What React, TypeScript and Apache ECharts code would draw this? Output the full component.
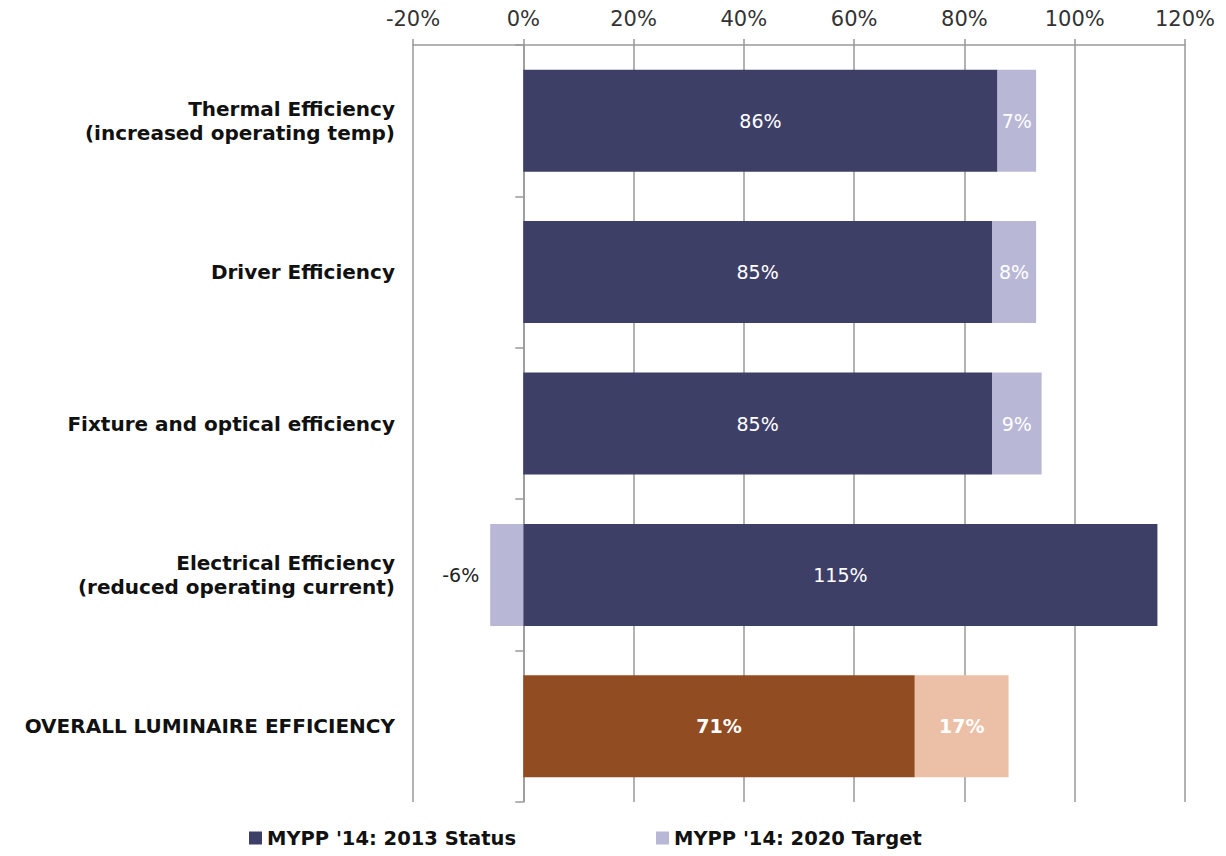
import React, { useEffect, useRef } from "react";
import * as echarts from "echarts";

const categories = [
  "Thermal Efficiency\n(increased operating temp)",
  "Driver Efficiency",
  "Fixture and optical efficiency",
  "Electrical Efficiency\n(reduced operating current)",
  "OVERALL LUMINAIRE EFFICIENCY",
];
const status2013 = [86, 85, 85, 115, 71];
const target2020 = [7, 8, 9, -6, 17];
const seriesNames = ["MYPP '14: 2013 Status", "MYPP '14: 2020 Target"];

const DARK = "#3e3f67";
const LIGHT = "#b8b7d6";
const BROWN = "#924c22";
const PEACH = "#ecc0a6";
const FONT = "DejaVu Sans";

export default function App() {
  const ref = useRef<HTMLDivElement>(null);
  useEffect(() => {
    if (!ref.current) return;
    const chart = echarts.init(ref.current, null, { renderer: "svg" });
    const last = categories.length - 1;
    const baseLabel = {
      show: true,
      position: "inside",
      formatter: "{c}%",
      fontFamily: FONT,
      fontSize: 19,
      color: "#fff",
    };
    chart.setOption({
      animation: false,
      backgroundColor: "#ffffff",
      grid: { left: 413, right: 41, top: 45, bottom: 54 },
      legend: {
        bottom: 3,
        left: 244,
        itemGap: 140,
        itemWidth: 13,
        itemHeight: 13,
        icon: "rect",
        textStyle: {
          fontFamily: FONT,
          fontWeight: "bold",
          fontSize: 19.5,
          color: "#111",
        },
        data: seriesNames,
      },
      xAxis: {
        type: "value",
        position: "top",
        min: -20,
        max: 120,
        interval: 20,
        axisLine: { show: true, lineStyle: { color: "#999", width: 1.5 } },
        axisTick: { show: true, length: 6, lineStyle: { color: "#999", width: 1.5 } },
        splitLine: { show: true, lineStyle: { color: "#999", width: 1.5 } },
        axisLabel: {
          formatter: "{value}%",
          fontFamily: FONT,
          fontSize: 21,
          color: "#333",
          margin: 16,
        },
      },
      yAxis: {
        type: "category",
        inverse: true,
        data: categories,
        axisLine: { show: true, lineStyle: { color: "#999", width: 1.5 } },
        axisTick: { show: true, length: 8, lineStyle: { color: "#999", width: 1.5 } },
        axisLabel: {
          fontFamily: FONT,
          fontWeight: "bold",
          fontSize: 20,
          lineHeight: 24,
          color: "#111",
          margin: 18,
          align: "right",
        },
      },
      series: [
        {
          name: seriesNames[0],
          type: "bar",
          stack: "total",
          barWidth: 102,
          itemStyle: { color: DARK },
          data: status2013.map((v, i) => ({
            value: v,
            itemStyle: { color: i === last ? BROWN : DARK },
            label: i === last ? { fontWeight: "bold" } : undefined,
          })),
          label: baseLabel,
        },
        {
          name: seriesNames[1],
          type: "bar",
          stack: "total",
          barWidth: 102,
          itemStyle: { color: LIGHT },
          data: target2020.map((v, i) => ({
            value: v,
            itemStyle: { color: i === last ? PEACH : LIGHT },
            label:
              i === last
                ? { fontWeight: "bold" }
                : v < 0
                ? { position: "left", color: "#222", distance: 11 }
                : undefined,
          })),
          label: baseLabel,
        },
      ],
    });
    return () => chart.dispose();
  }, []);
  return (
    <div
      ref={ref}
      style={{ position: "fixed", left: 0, top: 0, width: 1226, height: 856 }}
    />
  );
}
